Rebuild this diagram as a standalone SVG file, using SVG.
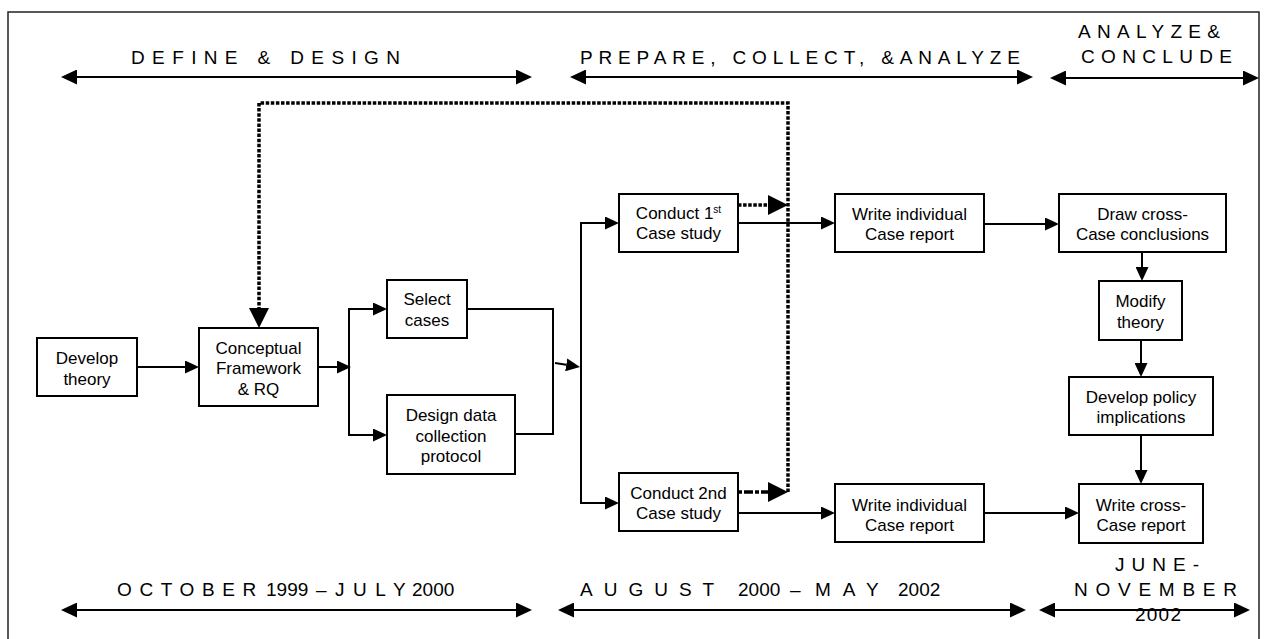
<svg xmlns="http://www.w3.org/2000/svg" width="1264" height="639" viewBox="0 0 1264 639">
<style>
  .box{fill:#fff;stroke:#000;stroke-width:2}
  .nt{font-family:"Liberation Sans",Arial,sans-serif;font-size:17px;fill:#000;text-anchor:middle}
  .tt{font-family:"Liberation Sans",Arial,sans-serif;font-size:19px;fill:#000}
  .ln{fill:none;stroke:#000;stroke-width:2}
  .dot{fill:none;stroke:#000;stroke-width:3.5;stroke-dasharray:3.5 1.6}
  .dash{fill:none;stroke:#000;stroke-width:3.5;stroke-dasharray:4 2 9 2}
  .tl{fill:none;stroke:#000;stroke-width:2}
</style>
<defs>
  <marker id="a" viewBox="0 0 14 13" refX="0" refY="6.5" markerWidth="14" markerHeight="13" markerUnits="userSpaceOnUse" orient="auto"><path d="M0,0L14,6.5L0,13z" fill="#000"/></marker>
  <marker id="d" viewBox="0 0 20 20" refX="0" refY="10" markerWidth="20" markerHeight="20" markerUnits="userSpaceOnUse" orient="auto"><path d="M0,0L20,10L0,20z" fill="#000"/></marker>
  <marker id="t" viewBox="0 0 16 15" refX="0" refY="7.5" markerWidth="16" markerHeight="15" markerUnits="userSpaceOnUse" orient="auto-start-reverse"><path d="M0,0L16,7.5L0,15z" fill="#000"/></marker>
</defs>
<rect x="8" y="12" width="1251" height="640" fill="none" stroke="#222" stroke-width="1.5"/>

<g id="timeline-top">
  <text class="tt" x="131" y="64" textLength="269" lengthAdjust="spacing">DEFINE &amp; DESIGN</text>
  <text class="tt" x="580" y="64" textLength="440" lengthAdjust="spacing">PREPARE, COLLECT, &amp;ANALYZE</text>
  <text class="tt" x="1078" y="38" textLength="142" lengthAdjust="spacing">ANALYZE&amp;</text>
  <text class="tt" x="1081" y="63" textLength="151" lengthAdjust="spacing">CONCLUDE</text>
  <path class="tl" d="M77,77H516" marker-start="url(#t)" marker-end="url(#t)"/>
  <path class="tl" d="M586,77H1017" marker-start="url(#t)" marker-end="url(#t)"/>
  <path class="tl" d="M1066,78H1243" marker-start="url(#t)" marker-end="url(#t)"/>
</g>

<g id="timeline-bottom">
  <text class="tt" y="596"><tspan x="117" letter-spacing="7.6">OCTOBER</tspan><tspan x="266">1999</tspan><tspan x="316">–</tspan><tspan x="335" letter-spacing="8.5">JULY</tspan><tspan x="412">2000</tspan></text>
  <text class="tt" y="596"><tspan x="580" letter-spacing="11">AUGUST</tspan><tspan x="738">2000</tspan><tspan x="790">–</tspan><tspan x="815" letter-spacing="12">MAY</tspan><tspan x="898">2002</tspan></text>
  <text class="tt" x="1115" y="571" textLength="84" lengthAdjust="spacing">JUNE-</text>
  <text class="tt" x="1074" y="596" textLength="163" lengthAdjust="spacing">NOVEMBER</text>
  <text class="tt" x="1135" y="621" textLength="46" lengthAdjust="spacing">2002</text>
  <path class="tl" d="M77,610H516" marker-start="url(#t)" marker-end="url(#t)"/>
  <path class="tl" d="M574,610H1010" marker-start="url(#t)" marker-end="url(#t)"/>
  <path class="tl" d="M1055,610H1234" marker-start="url(#t)" marker-end="url(#t)"/>
</g>

<g id="connectors">
  <path class="ln" d="M137,367H185" marker-end="url(#a)"/>
  <path class="ln" d="M318,367H337" marker-end="url(#a)"/>
  <path class="ln" d="M349,309V435"/>
  <path class="ln" d="M348,309H373" marker-end="url(#a)"/>
  <path class="ln" d="M348,435H373" marker-end="url(#a)"/>
  <path class="ln" d="M467,309H553V434H515"/>
  <path class="ln" d="M555,363L566.2,364.8" marker-end="url(#a)"/>
  <path class="ln" d="M581,223V503"/>
  <path class="ln" d="M580,223H605" marker-end="url(#a)"/>
  <path class="ln" d="M580,503H605" marker-end="url(#a)"/>
  <path class="ln" d="M738,223H821" marker-end="url(#a)"/>
  <path class="ln" d="M738,513H821" marker-end="url(#a)"/>
  <path class="ln" d="M984,224H1045" marker-end="url(#a)"/>
  <path class="ln" d="M1142,252V267" marker-end="url(#a)"/>
  <path class="ln" d="M1141,340V363" marker-end="url(#a)"/>
  <path class="ln" d="M1141,435V470" marker-end="url(#a)"/>
  <path class="ln" d="M984,513H1065" marker-end="url(#a)"/>
  <path class="dot" d="M788,492V103H259V308" marker-end="url(#d)"/>
  <path class="dot" d="M738,205H768" marker-end="url(#d)"/>
  <path class="dash" d="M738,492H768" marker-end="url(#d)"/>
</g>

<g id="develop-theory">
  <rect class="box" x="37" y="338" width="100" height="58"/>
  <text class="nt" x="87" y="364">Develop</text>
  <text class="nt" x="87" y="385">theory</text>
</g>
<g id="conceptual-framework">
  <rect class="box" x="199" y="328" width="119" height="78"/>
  <text class="nt" x="258.5" y="354">Conceptual</text>
  <text class="nt" x="258.5" y="374">Framework</text>
  <text class="nt" x="258.5" y="395">&amp; RQ</text>
</g>
<g id="select-cases">
  <rect class="box" x="387" y="280" width="80" height="58"/>
  <text class="nt" x="427" y="305">Select</text>
  <text class="nt" x="427" y="326">cases</text>
</g>
<g id="design-protocol">
  <rect class="box" x="387" y="395" width="128" height="79"/>
  <text class="nt" x="451" y="421">Design data</text>
  <text class="nt" x="451" y="442">collection</text>
  <text class="nt" x="451" y="462">protocol</text>
</g>
<g id="conduct-1">
  <rect class="box" x="619" y="194" width="119" height="58"/>
  <text class="nt" x="678.5" y="219">Conduct 1<tspan font-size="10" dy="-6">st</tspan></text>
  <text class="nt" x="678.5" y="239">Case study</text>
</g>
<g id="conduct-2">
  <rect class="box" x="619" y="473" width="119" height="58"/>
  <text class="nt" x="678.5" y="499">Conduct 2nd</text>
  <text class="nt" x="678.5" y="519">Case study</text>
</g>
<g id="write-individual-1">
  <rect class="box" x="835" y="194" width="149" height="58"/>
  <text class="nt" x="909.5" y="220">Write individual</text>
  <text class="nt" x="909.5" y="240">Case report</text>
</g>
<g id="write-individual-2">
  <rect class="box" x="835" y="484" width="149" height="58"/>
  <text class="nt" x="909.5" y="511">Write individual</text>
  <text class="nt" x="909.5" y="531">Case report</text>
</g>
<g id="draw-cross-case">
  <rect class="box" x="1059" y="194" width="167" height="58"/>
  <text class="nt" x="1142.5" y="220">Draw cross-</text>
  <text class="nt" x="1142.5" y="240">Case conclusions</text>
</g>
<g id="modify-theory">
  <rect class="box" x="1099" y="281" width="83" height="59"/>
  <text class="nt" x="1140.5" y="307">Modify</text>
  <text class="nt" x="1140.5" y="328">theory</text>
</g>
<g id="develop-policy">
  <rect class="box" x="1069" y="377" width="144" height="58"/>
  <text class="nt" x="1141" y="403">Develop policy</text>
  <text class="nt" x="1141" y="423">implications</text>
</g>
<g id="write-cross-case">
  <rect class="box" x="1079" y="484" width="124" height="59"/>
  <text class="nt" x="1141" y="511">Write cross-</text>
  <text class="nt" x="1141" y="531">Case report</text>
</g>
</svg>
